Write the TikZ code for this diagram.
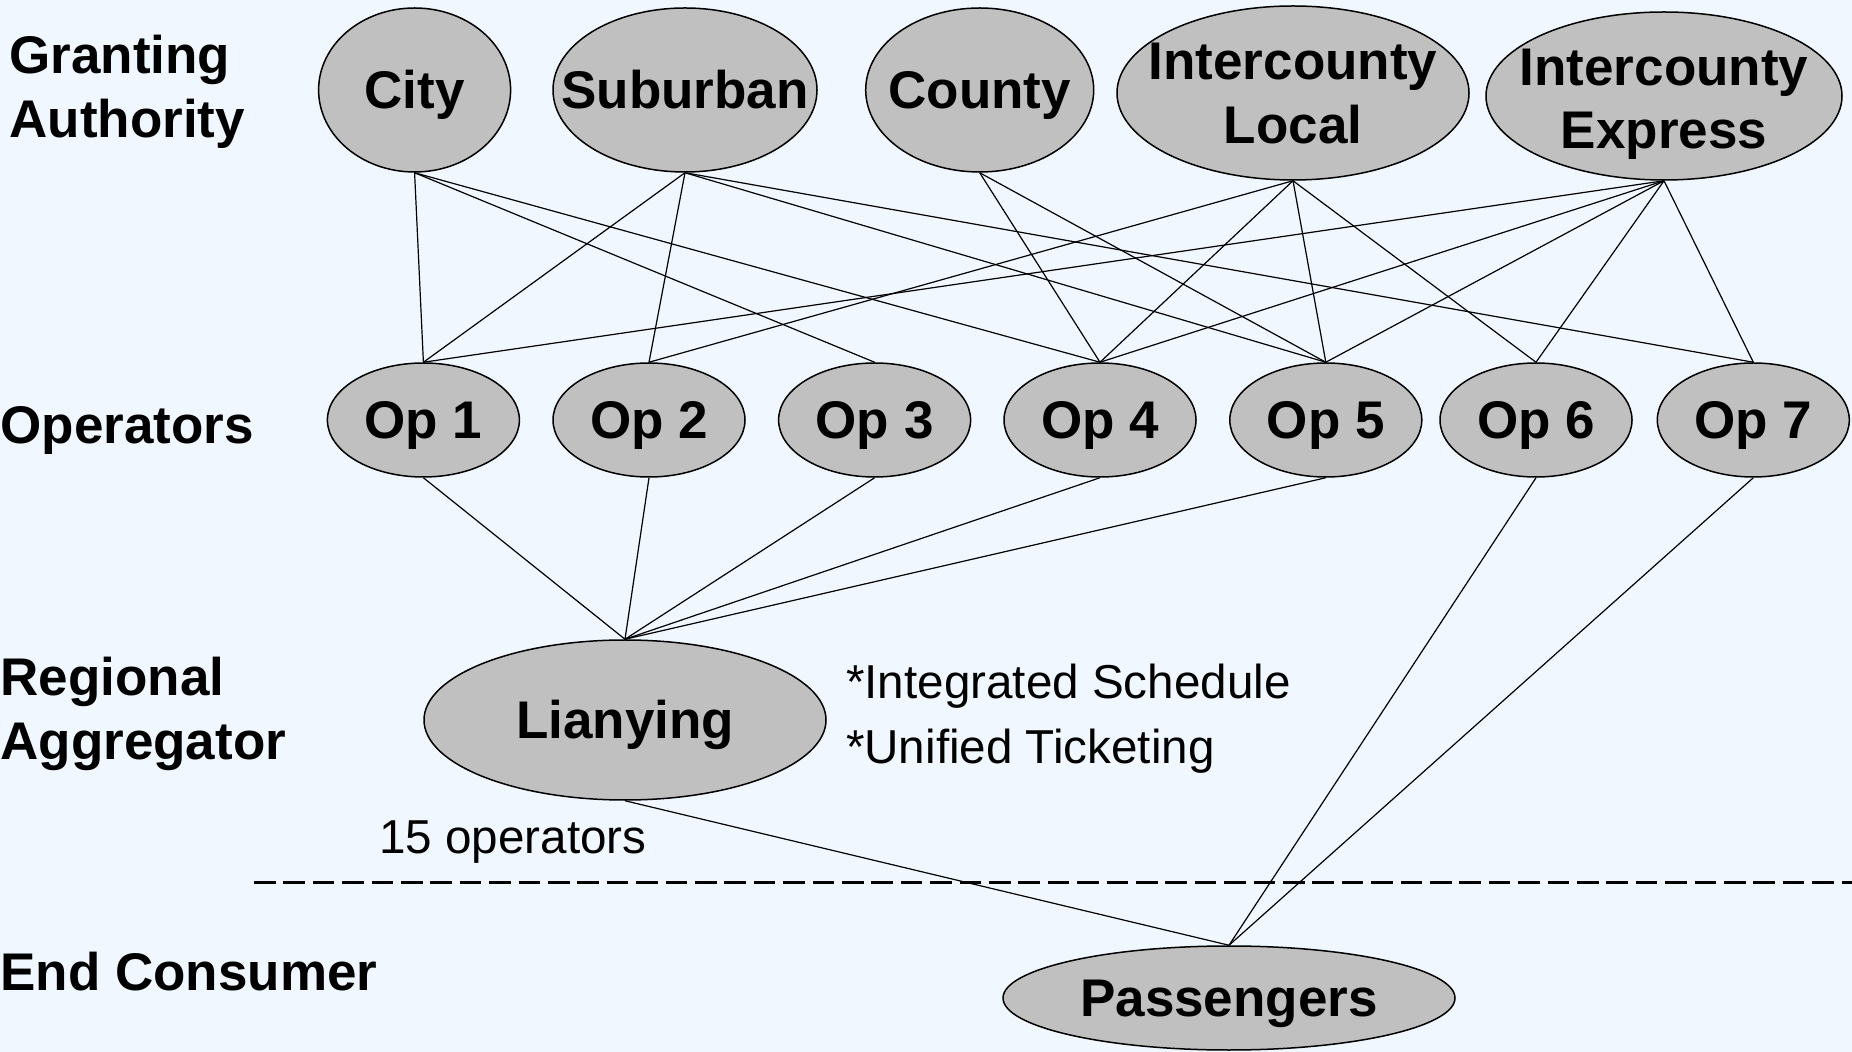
\documentclass[tikz,border=0pt]{standalone}
\usepackage{fontspec}
\setmainfont{Liberation Sans}
\usetikzlibrary{shapes.geometric}
\definecolor{bgcol}{RGB}{240,247,255}
\definecolor{nodefill}{RGB}{192,192,192}
\begin{document}
\begin{tikzpicture}[x=0.5pt,y=-0.5pt,
  ell/.style={ellipse,draw=black,fill=nodefill,line width=0.75pt,inner sep=0pt},
  big/.style={font=\fontsize{26.5}{32}\selectfont\bfseries,inner sep=0pt,anchor=base},
  lbl/.style={big,anchor=base west},
  note/.style={font=\fontsize{23.8}{28}\selectfont,inner sep=0pt,anchor=base west},
  edge/.style={draw=black,line width=0.6pt},
  dashline/.style={draw=black,line width=1.4pt,dash pattern=on 10.8pt off 3.9pt}]
\fill[bgcol] (0,0) rectangle (1852,1052);
\useasboundingbox (0,0) rectangle (1852,1052);

% authorities
\node[ell,minimum width=96pt,minimum height=82pt] (city) at (414.6,90) {};
\node[ell,minimum width=132pt,minimum height=82pt] (sub) at (685,90) {};
\node[ell,minimum width=114pt,minimum height=82pt] (county) at (979.7,90) {};
\node[ell,minimum width=176pt,minimum height=87pt] (icl) at (1293,93) {};
\node[ell,minimum width=178pt,minimum height=84pt] (ice) at (1664,96) {};

% operators
\foreach \i/\x in {1/423.4,2/649,3/874.6,4/1100,5/1325.8,6/1536,7/1753.3}{
  \node[ell,minimum width=96pt,minimum height=57pt] (op\i) at (\x,420) {};
  \node[big] (op\i-t) at ([yshift=-9.4pt]op\i.center) {Op \i};
}

\node[ell,minimum width=201pt,minimum height=80pt] (lian) at (625,720) {};
\node[ell,minimum width=226pt,minimum height=52pt] (pass) at (1229,998) {};

% texts in ellipses
\node[big] (city-t) at ([yshift=-9.4pt]city.center) {City};
\node[big] (sub-t) at ([yshift=-9.4pt]sub.center) {Suburban};
\node[big] (county-t) at ([yshift=-9.4pt]county.center) {County};
\node[big] (icl-t1) at (1293,80) {Intercounty};
\node[big] (icl-t2) at (1293,144) {Local};
\node[big] (ice-t1) at (1664,86) {Intercounty};
\node[big] (ice-t2) at (1664,149) {Express};
\node[big] (lian-t) at ([yshift=-9.4pt]lian.center) {Lianying};
\node[big] (pass-t) at ([yshift=-9.4pt]pass.center) {Passengers};

% left labels
\node[lbl] (ga1) at (9,74) {Granting};
\node[lbl] (ga2) at (9,138) {Authority};
\node[lbl] (opl) at (0,444) {Operators};
\node[lbl] (ra1) at (0,695.5) {Regional};
\node[lbl] (ra2) at (0,759) {Aggregator};
\node[lbl] (ec) at (0,990) {End Consumer};

% notes
\node[note] (n1) at (845.7,698.5) {*Integrated Schedule};
\node[note] (n2) at (845.7,763.5) {*Unified Ticketing};
\node[note] (n3) at (379,853) {15 operators};

% authority -> operator edges
\foreach \a/\o in {city/1,city/3,city/4,
                   sub/1,sub/2,sub/5,sub/7,
                   county/4,county/5,
                   icl/2,icl/4,icl/5,icl/6,
                   ice/1,ice/4,ice/5,ice/6,ice/7}{
  \draw[edge] (\a.south) -- (op\o.north);
}
% operators -> aggregator / passengers
\foreach \o in {1,2,3,4,5}{\draw[edge] (op\o.south) -- (lian.north);}
\draw[edge] (op6.south) -- (pass.north);
\draw[edge] (op7.south) -- (pass.north);
\draw[edge] (lian.south) -- (pass.north);

\coordinate (dl) at (254,882.5);
\coordinate (dr) at (1852,882.5);
\draw[dashline] (dl) -- (dr);
\end{tikzpicture}
\end{document}
